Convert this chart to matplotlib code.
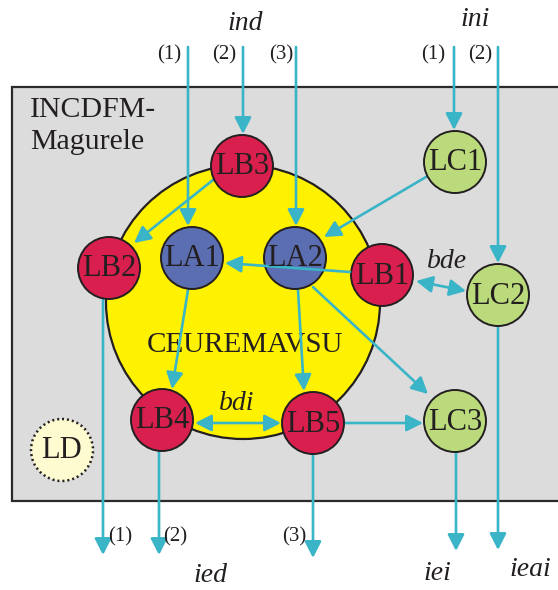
import matplotlib
matplotlib.use("Agg")
import matplotlib.pyplot as plt
from matplotlib.patches import Circle, Rectangle, FancyArrowPatch

# node names, centres (px, y down) and fill groups
nodeNames = ["LB3", "LB2", "LA1", "LA2", "LB1", "LC1", "LC2", "LB4", "LB5", "LC3"]
nodeX = [242, 109, 192, 295, 382, 455, 498, 162, 313, 455]
nodeY = [166, 268, 258, 258, 275, 162, 295, 420, 423, 421]
nodeGroup = ["B", "B", "A", "A", "B", "C", "C", "B", "B", "C"]

# arrows: start -> end, and whether double headed
arrowStart = [(188, 47), (243, 47), (296, 47), (454, 47), (498, 47),
              (213, 180), (426, 177), (416, 281), (188, 290), (298, 290),
              (313, 287), (195, 423), (345, 423),
              (103, 300), (159, 452), (313, 454), (456, 452), (498, 327)]
arrowEnd = [(188, 226), (243, 134), (296, 226), (454, 130), (498, 263),
            (134, 243), (324, 237), (466, 291), (172, 389), (304, 391),
            (428, 394), (281, 423), (423, 423),
            (103, 555), (159, 555), (313, 558), (456, 551), (498, 550)]
arrowBoth = [False] * 7 + [True] + [False] * 3 + [True] + [False] * 6

inLabels = ["(1)", "(2)", "(3)", "(1)", "(2)"]
inLabelX = [169, 224, 281, 433, 480]
outLabels = ["(1)", "(2)", "(3)"]
outLabelX = [120, 175, 294]

colors = {"A": "#5b6eb2", "B": "#d81f4e", "C": "#bada7c"}
cyan = "#3ab4c7"
ink = "#231f20"
serif = "Liberation Serif"

fig = plt.figure(figsize=(5.58, 5.90), dpi=100)
ax = fig.add_axes([0, 0, 1, 1])
ax.set_xlim(0, 558)
ax.set_ylim(590, 0)
ax.axis("off")

# grey institute box (runs off the right edge)
ax.add_patch(Rectangle((12, 87), 600, 414, facecolor="#dcdcdc",
                       edgecolor="#2b2b2b", lw=1.6, zorder=1))
ax.text(30, 110, "INCDFM-", fontsize=21.5, family=serif, color=ink,
        va="center", ha="left", zorder=2)
ax.text(30, 142, "Magurele", fontsize=21.5, family=serif, color=ink,
        va="center", ha="left", zorder=2)

# yellow centre
ax.add_patch(Circle((243, 302), 137, facecolor="#fff200", edgecolor=ink,
                    lw=1.6, zorder=2))
ax.text(245, 345, "CEUREMAVSU", fontsize=21, family=serif, color=ink,
        ha="center", va="center", zorder=3)

for i in range(len(arrowStart)):
    style = "<|-|>" if arrowBoth[i] else "-|>"
    ax.add_patch(FancyArrowPatch(arrowStart[i], arrowEnd[i],
                                 arrowstyle=style + ",head_length=0.55,head_width=0.28",
                                 mutation_scale=18, color=cyan, lw=1.9,
                                 shrinkA=0, shrinkB=0, zorder=3))
# LB1 -> LA1 passes over LA2
ax.add_patch(FancyArrowPatch((350, 272), (225, 263),
                             arrowstyle="-|>,head_length=0.55,head_width=0.28",
                             mutation_scale=18, color=cyan, lw=1.9,
                             shrinkA=0, shrinkB=0, zorder=6))

for name, x, y, g in zip(nodeNames, nodeX, nodeY, nodeGroup):
    ax.add_patch(Circle((x, y), 31, facecolor=colors[g], edgecolor=ink,
                        lw=1.4, zorder=5))
    ax.text(x, y + 1, name, fontsize=22, family=serif, color=ink,
            ha="center", va="center", zorder=7)

ax.add_patch(Circle((62, 450), 31, facecolor="#fffbd0", edgecolor=ink,
                    lw=1.8, ls=(0, (0.8, 1.2)), zorder=5))
ax.text(62, 451, "LD", fontsize=22, family=serif, color=ink,
        ha="center", va="center", zorder=7)

for lab, x in zip(inLabels, inLabelX):
    ax.text(x, 55, lab, fontsize=15, family=serif, color=ink,
            ha="center", va="center")
for lab, x in zip(outLabels, outLabelX):
    ax.text(x, 537, lab, fontsize=15, family=serif, color=ink,
            ha="center", va="center")

italics = ["ind", "ini", "bde", "bdi", "ied", "iei", "ieai"]
italX = [245, 475, 447, 237, 210, 437, 530]
italY = [24, 20, 262, 403, 575, 573, 570]
for t, x, y in zip(italics, italX, italY):
    ax.text(x, y, t, fontsize=20, family=serif, style="italic", color=ink,
            ha="center", va="center", zorder=8)

fig.savefig("out.png", dpi=100)
